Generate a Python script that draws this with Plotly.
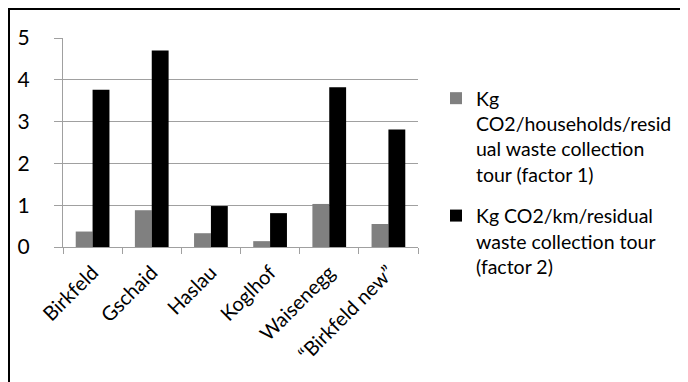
import plotly.graph_objects as go

categories = ["Birkfeld", "Gschaid", "Haslau", "Koglhof", "Waisenegg", "\u201cBirkfeld new\u201d"]
factor1 = [0.37, 0.88, 0.33, 0.14, 1.03, 0.55]
factor2 = [3.76, 4.70, 0.98, 0.81, 3.82, 2.81]
name1 = "Kg<br>CO2/households/resid<br>ual waste collection<br>tour (factor 1)"
name2 = "Kg CO2/km/residual<br>waste collection tour<br>(factor 2)"
y_ticks = [0, 1, 2, 3, 4, 5]

# the page body adds an 8px offset; positions below are in figure pixels
W, H = 688, 382
L, R, T, B = 55, 278, 30, 143
pw, ph = W - L - R, H - T - B

fig = go.Figure()
fig.add_trace(go.Bar(x=categories, y=factor1, name=name1, legendgroup="f1",
                     marker=dict(color="#808080", line=dict(width=0))))
fig.add_trace(go.Bar(x=categories, y=factor2, name=name2, legendgroup="f2",
                     marker=dict(color="#000000", line=dict(width=0))))

font = "Lato, 'Open Sans', sans-serif"
fig.update_layout(
    width=W, height=H,
    margin=dict(l=L, r=R, t=T, b=B, autoexpand=False),
    paper_bgcolor="white", plot_bgcolor="white",
    barmode="group", bargap=0.43, bargroupgap=0,
    font=dict(family=font, color="#000000"),
    showlegend=True,
    legend=dict(
        xref="container", yref="container",
        x=428 / W, xanchor="left",
        y=1 - 71 / H, yanchor="top",
        font=dict(size=19.5, family=font, color="#000000"),
        valign="top", bgcolor="rgba(0,0,0,0)",
        traceorder="grouped", tracegroupgap=13,
        maxheight=1,
    ),
    xaxis=dict(
        automargin=False,
        showline=True, linecolor="#a0a0a0", linewidth=1,
        ticks="outside", tickson="boundaries", ticklen=6, tickcolor="#a0a0a0",
        ticklabelstandoff=5,
        tickangle=-45, tickfont=dict(size=20, family=font, color="#000000"),
        showgrid=False,
    ),
    yaxis=dict(
        automargin=False,
        range=[0, 5], tickvals=y_ticks, ticktext=[str(v) for v in y_ticks],
        showline=True, linecolor="#a0a0a0", linewidth=1,
        ticks="outside", ticklen=8, tickcolor="#a0a0a0",
        ticklabelstandoff=20,
        showgrid=True, gridcolor="#a0a0a0", gridwidth=1,
        tickfont=dict(size=21, family=font, color="#000000"),
        zeroline=False,
    ),
    shapes=[
        dict(type="rect", xref="paper", yref="paper",
             x0=(1 - L) / pw, x1=(W + 20 - L) / pw,
             y0=-(H + 20 - T - ph) / ph, y1=1 + (T - 1) / ph,
             line=dict(color="#000000", width=2), fillcolor="rgba(0,0,0,0)", layer="below"),
    ],
)

fig.write_html("out.html")
